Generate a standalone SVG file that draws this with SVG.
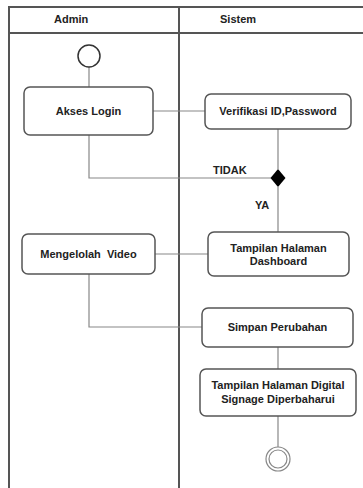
<svg xmlns="http://www.w3.org/2000/svg" width="363" height="488" viewBox="0 0 363 488">
<style>
.lane{stroke:#555;stroke-width:2;fill:none}
.node{fill:#fff;stroke:#555;stroke-width:1.5}
.t{font-family:"Liberation Sans",Arial,sans-serif;font-size:11px;font-weight:bold;fill:#222;text-anchor:middle}
.h{font-family:"Liberation Sans",Arial,sans-serif;font-size:11px;font-weight:bold;fill:#222}
.c{stroke:#888;stroke-width:1.2;fill:none}
</style>
<rect width="363" height="488" fill="#fff"/>
<g id="lanes">
<line class="lane" x1="9" y1="7" x2="363" y2="7"/>
<line class="lane" x1="9" y1="33" x2="363" y2="33"/>
<line class="lane" x1="9" y1="6" x2="9" y2="488"/>
<line class="lane" x1="179" y1="6" x2="179" y2="488"/>
<text class="h" x="54" y="23">Admin</text>
<text class="h" x="220" y="23">Sistem</text>
</g>
<g id="connectors">
<line class="c" x1="89" y1="67" x2="89" y2="87"/>
<line class="c" x1="153" y1="111" x2="205" y2="111"/>
<polyline class="c" points="89,135 89,178 271,178"/>
<line class="c" x1="278" y1="129" x2="278" y2="169"/>
<line class="c" x1="278" y1="187" x2="278" y2="232"/>
<line class="c" x1="155" y1="254" x2="208" y2="254"/>
<polyline class="c" points="89,274 89,327 202,327"/>
<line class="c" x1="278" y1="347" x2="278" y2="369"/>
<line class="c" x1="278" y1="416" x2="278" y2="447"/>
<text class="h" x="213" y="174">TIDAK</text>
<text class="h" x="255" y="209">YA</text>
</g>
<g id="start">
<circle cx="89" cy="56" r="11" fill="#fff" stroke="#333" stroke-width="1.5"/>
</g>
<g id="akses-login">
<rect class="node" x="24" y="87" width="129" height="48" rx="6"/>
<text class="t" x="88.5" y="115">Akses Login</text>
</g>
<g id="verifikasi">
<rect class="node" x="205" y="94" width="146" height="35" rx="6"/>
<text class="t" x="278" y="115">Verifikasi ID,Password</text>
</g>
<g id="decision">
<polygon points="278,169 285.5,178 278,187 270.5,178" fill="#000"/>
</g>
<g id="mengelolah">
<rect class="node" x="22" y="234" width="133" height="40" rx="6"/>
<text class="t" x="88.5" y="258" xml:space="preserve" style="white-space:pre">Mengelolah  Video</text>
</g>
<g id="dashboard">
<rect class="node" x="208" y="232" width="141" height="44" rx="6"/>
<text class="t" x="278.5" y="252">Tampilan Halaman</text>
<text class="t" x="278.5" y="265">Dashboard</text>
</g>
<g id="simpan">
<rect class="node" x="202" y="308" width="151" height="39" rx="6"/>
<text class="t" x="277.5" y="331">Simpan Perubahan</text>
</g>
<g id="digital-signage">
<rect class="node" x="200" y="369" width="156" height="47" rx="6"/>
<text class="t" x="278" y="389">Tampilan Halaman Digital</text>
<text class="t" x="278" y="403">Signage Diperbaharui</text>
</g>
<g id="end">
<circle cx="278" cy="459" r="12" fill="#fff" stroke="#888" stroke-width="1.2"/>
<circle cx="278" cy="459" r="9" fill="#fff" stroke="#888" stroke-width="1.2"/>
</g>
</svg>
